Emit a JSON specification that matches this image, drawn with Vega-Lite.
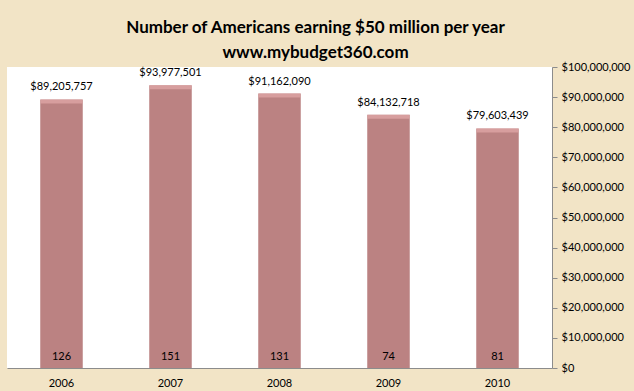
{
  "$schema": "https://vega.github.io/schema/vega-lite/v6.json",
  "width": 545,
  "height": 301,
  "autosize": {"type": "none"},
  "padding": {"left": 7, "top": 67, "right": 82, "bottom": 23},
  "background": "#F2E4C6",
  "title": {
    "text": ["Number of Americans earning $50 million per year", "www.mybudget360.com"],
    "font": "Lato",
    "fontSize": 17,
    "fontWeight": "bold",
    "color": "#000000",
    "anchor": "middle",
    "dx": 36,
    "offset": -1,
    "lineHeight": 25
  },
  "config": {
    "view": {"fill": "#FFFFFF", "stroke": null},
    "font": "Lato"
  },
  "data": {
    "values": [
      {"year": "2006", "amount": 89205757, "count": 126},
      {"year": "2007", "amount": 93977501, "count": 151},
      {"year": "2008", "amount": 91162090, "count": 131},
      {"year": "2009", "amount": 84132718, "count": 74},
      {"year": "2010", "amount": 79603439, "count": 81}
    ]
  },
  "encoding": {
    "x": {
      "field": "year",
      "type": "nominal",
      "scale": {"paddingInner": 0.61, "paddingOuter": 0.305},
      "axis": {
        "title": null,
        "labelAngle": 0,
        "ticks": false,
        "domainColor": "#8C8C8C",
        "labelFontSize": 11,
        "labelColor": "#000000",
        "labelPadding": 9,
        "labelFont": "Lato"
      }
    },
    "y": {
      "field": "amount",
      "type": "quantitative",
      "scale": {"domain": [0, 100000000], "nice": false},
      "axis": {
        "orient": "right",
        "title": null,
        "format": "$,.0f",
        "values": [0, 10000000, 20000000, 30000000, 40000000, 50000000, 60000000, 70000000, 80000000, 90000000, 100000000],
        "labelOverlap": false,
        "labelFlush": false,
        "grid": false,
        "domainColor": "#8C8C8C",
        "tickColor": "#8C8C8C",
        "tickSize": 5,
        "labelFontSize": 11,
        "labelColor": "#000000",
        "labelPadding": 4,
        "labelFont": "Lato"
      }
    }
  },
  "layer": [
    {
      "mark": {"type": "bar", "color": "#BB8282"}
    },
    {
      "mark": {"type": "tick", "color": "#E3AAAA", "thickness": 4, "size": 42, "yOffset": 2}
    },
    {
      "mark": {"type": "text", "dy": -12, "fontSize": 11, "color": "#000000"},
      "encoding": {
        "text": {"field": "amount", "type": "quantitative", "format": "$,.0f"}
      }
    },
    {
      "mark": {"type": "text", "fontSize": 11, "color": "#000000", "dy": -11},
      "encoding": {
        "y": {"datum": 0, "type": "quantitative"},
        "text": {"field": "count", "type": "quantitative"}
      }
    }
  ]
}
